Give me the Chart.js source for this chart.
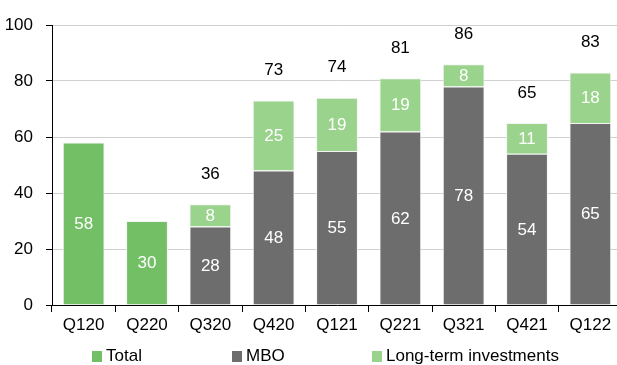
<!DOCTYPE html>
<html>
<head>
<meta charset="utf-8">
<script src="https://cdn.jsdelivr.net/npm/chart.js@4"></script>
<style>
  html, body { margin: 0; padding: 0; background: #fff; overflow: hidden; width: 617px; height: 365px; }
  #wrap { position: relative; width: 617px; height: 365px; overflow: hidden; }
  canvas { position: absolute; left: 0; top: 0; }
  .legend-item { position: absolute; top: 346px; font: 17px 'Liberation Sans', Arial, sans-serif; line-height: 19px; color: #000; white-space: nowrap; }
  .legend-item i { display: inline-block; width: 10px; height: 11px; margin-right: 4px; vertical-align: -1px; }
</style>
</head>
<body>
<div id="wrap">
  <canvas id="chart" width="630" height="365"></canvas>
  <div class="legend-item" style="left:92px"><i style="background:#72bf65"></i>Total</div>
  <div class="legend-item" style="left:232px"><i style="background:#6d6d6d"></i>MBO</div>
  <div class="legend-item" style="left:372px"><i style="background:#9ad38c"></i>Long-term investments</div>
</div>
<script>
// values
const categories = ['Q120', 'Q220', 'Q320', 'Q420', 'Q121', 'Q221', 'Q321', 'Q421', 'Q122'];
const totalOnly = [58, 30, null, null, null, null, null, null, null];
const mbo = [null, null, 28, 48, 55, 62, 78, 54, 65];
const longTerm = [null, null, 8, 25, 19, 19, 8, 11, 18];
const stackTotals = [null, null, 36, 73, 74, 81, 86, 65, 83];
const yTicks = [0, 20, 40, 60, 80, 100];

const FONT = "'Liberation Sans', Arial, sans-serif";

// white labels inside each segment, black totals above the stack
const valueLabels = {
  id: 'valueLabels',
  afterDatasetsDraw(chart) {
    const ctx = chart.ctx;
    ctx.save();
    ctx.font = '17px ' + FONT;
    ctx.textAlign = 'center';
    ctx.textBaseline = 'middle';
    chart.data.datasets.forEach((ds, i) => {
      chart.getDatasetMeta(i).data.forEach((bar, j) => {
        if (ds.data[j] == null) return;
        ctx.fillStyle = '#fff';
        ctx.fillText(ds.data[j], bar.x, (bar.y + bar.base) / 2 + 1);
      });
    });
    const yScale = chart.scales.y;
    const xScale = chart.scales.x;
    ctx.fillStyle = '#000';
    stackTotals.forEach((t, j) => {
      if (t == null) return;
      ctx.fillText(t, xScale.getPixelForValue(j), yScale.getPixelForValue(t) - 30);
    });
    ctx.restore();
  }
};

new Chart(document.getElementById('chart'), {
  type: 'bar',
  data: {
    labels: categories,
    datasets: [
      { label: 'Total', data: totalOnly, backgroundColor: '#72bf65' },
      { label: 'MBO', data: mbo, backgroundColor: '#6d6d6d' },
      { label: 'Long-term investments', data: longTerm, backgroundColor: '#9ad38c' }
    ]
  },
  options: {
    responsive: false,
    animation: false,
    layout: { padding: { top: 25, right: 8, left: 0, bottom: 0 } },
    datasets: {
      bar: { barPercentage: 0.66, categoryPercentage: 1, borderColor: '#f4f4f4', borderWidth: 1 }
    },
    plugins: { legend: { display: false }, tooltip: { enabled: false } },
    scales: {
      x: {
        stacked: true,
        grid: { offset: true, drawOnChartArea: false, tickColor: '#000', tickLength: 7 },
        border: { color: '#000', width: 1 },
        ticks: { color: '#000', font: { family: FONT, size: 17 }, padding: 3, maxRotation: 0 },
        afterFit(s) { s.height = 60; }
      },
      y: {
        stacked: true,
        min: 0,
        max: 100,
        afterBuildTicks(s) { s.ticks = yTicks.map(v => ({ value: v })); },
        grid: { color: '#d0d0d0', tickColor: '#000', tickLength: 6 },
        border: { color: '#000', width: 1 },
        ticks: { color: '#000', font: { family: FONT, size: 17 }, padding: 13 },
        afterFit(s) { s.width = 52; }
      }
    }
  },
  plugins: [valueLabels]
});
</script>
</body>
</html>
